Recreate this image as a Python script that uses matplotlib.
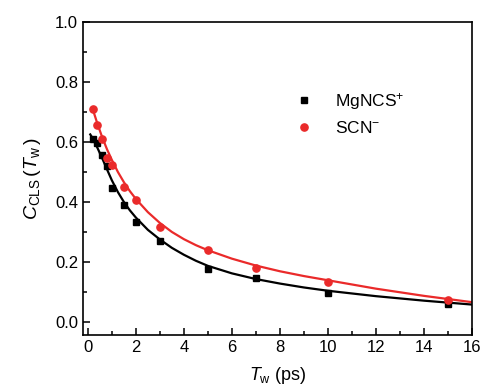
import matplotlib
matplotlib.use('Agg')
import matplotlib.pyplot as plt
from matplotlib.ticker import MultipleLocator

plt.rcParams['font.family'] = 'Liberation Sans'
plt.rcParams['mathtext.fontset'] = 'custom'
plt.rcParams['mathtext.rm'] = 'Liberation Sans'
plt.rcParams['mathtext.it'] = 'Liberation Sans:italic'

# measured points
tw_mg = [0.2, 0.4, 0.6, 0.8, 1.0, 1.5, 2.0, 3.0, 5.0, 7.0, 10.0, 15.0]
c_mg = [0.611, 0.595, 0.556, 0.519, 0.447, 0.391, 0.332, 0.270, 0.177, 0.145, 0.097, 0.059]

tw_scn = [0.2, 0.4, 0.6, 0.8, 1.0, 1.5, 2.0, 3.0, 5.0, 7.0, 10.0, 15.0]
c_scn = [0.709, 0.658, 0.609, 0.545, 0.522, 0.450, 0.408, 0.315, 0.240, 0.181, 0.132, 0.073]

# fit curves
fit_x = [0.1, 0.2, 0.4, 0.6, 0.8, 1.0, 1.25, 1.5, 1.75, 2.0, 2.5, 3.0, 3.5, 4.0, 4.5, 5.0, 6.0, 7.0, 8.0, 9.0, 10.0, 12.0, 14.0, 16.0]
fit_mg = [0.625, 0.612, 0.58, 0.545, 0.508, 0.472, 0.433, 0.40, 0.372, 0.348, 0.307, 0.275, 0.247, 0.224, 0.204, 0.187, 0.162, 0.143, 0.128, 0.115, 0.104, 0.086, 0.071, 0.058]
fit_scn_x = fit_x[1:]
fit_scn = [0.71, 0.66, 0.615, 0.575, 0.54, 0.50, 0.466, 0.436, 0.41, 0.366, 0.330, 0.300, 0.276, 0.256, 0.239, 0.211, 0.188, 0.169, 0.153, 0.139, 0.111, 0.087, 0.066]

fig = plt.figure(figsize=(4.83, 3.92), dpi=100)
ax = fig.add_axes([0.172, 0.145, 0.805, 0.799])

ax.plot(fit_x, fit_mg, color='black', lw=1.6)
ax.plot(fit_scn_x, fit_scn, color='#ea2a2a', lw=1.6)
ax.plot(tw_mg, c_mg, 's', color='black', ms=5, label=r'MgNCS$^{+}$')
ax.plot(tw_scn, c_scn, 'o', color='#ea2a2a', ms=5.2, label=r'SCN$^{-}$')

ax.set_xlim(-0.2, 16)
ax.set_ylim(-0.044, 1.0)
ax.xaxis.set_major_locator(MultipleLocator(2))
ax.xaxis.set_minor_locator(MultipleLocator(1))
ax.yaxis.set_major_locator(MultipleLocator(0.2))
ax.yaxis.set_minor_locator(MultipleLocator(0.1))
ax.tick_params(which='both', direction='in', labelsize=12, width=1.1)
ax.tick_params(which='major', length=5)
ax.tick_params(which='minor', length=3)
for s in ax.spines.values():
    s.set_linewidth(1.2)

ax.set_xlabel(r'$T_{\mathrm{w}}$ (ps)', fontsize=13, labelpad=7)
ax.set_ylabel(r'$C_{\mathrm{CLS}}\,(T_{\mathrm{w}}\,)$', fontsize=14, labelpad=9)

ax.legend(loc='upper left', bbox_to_anchor=(0.5, 0.83), frameon=False,
          fontsize=12.5, handletextpad=1.2, labelspacing=0.45, handlelength=1.2)

fig.savefig('out.png', dpi=100)
